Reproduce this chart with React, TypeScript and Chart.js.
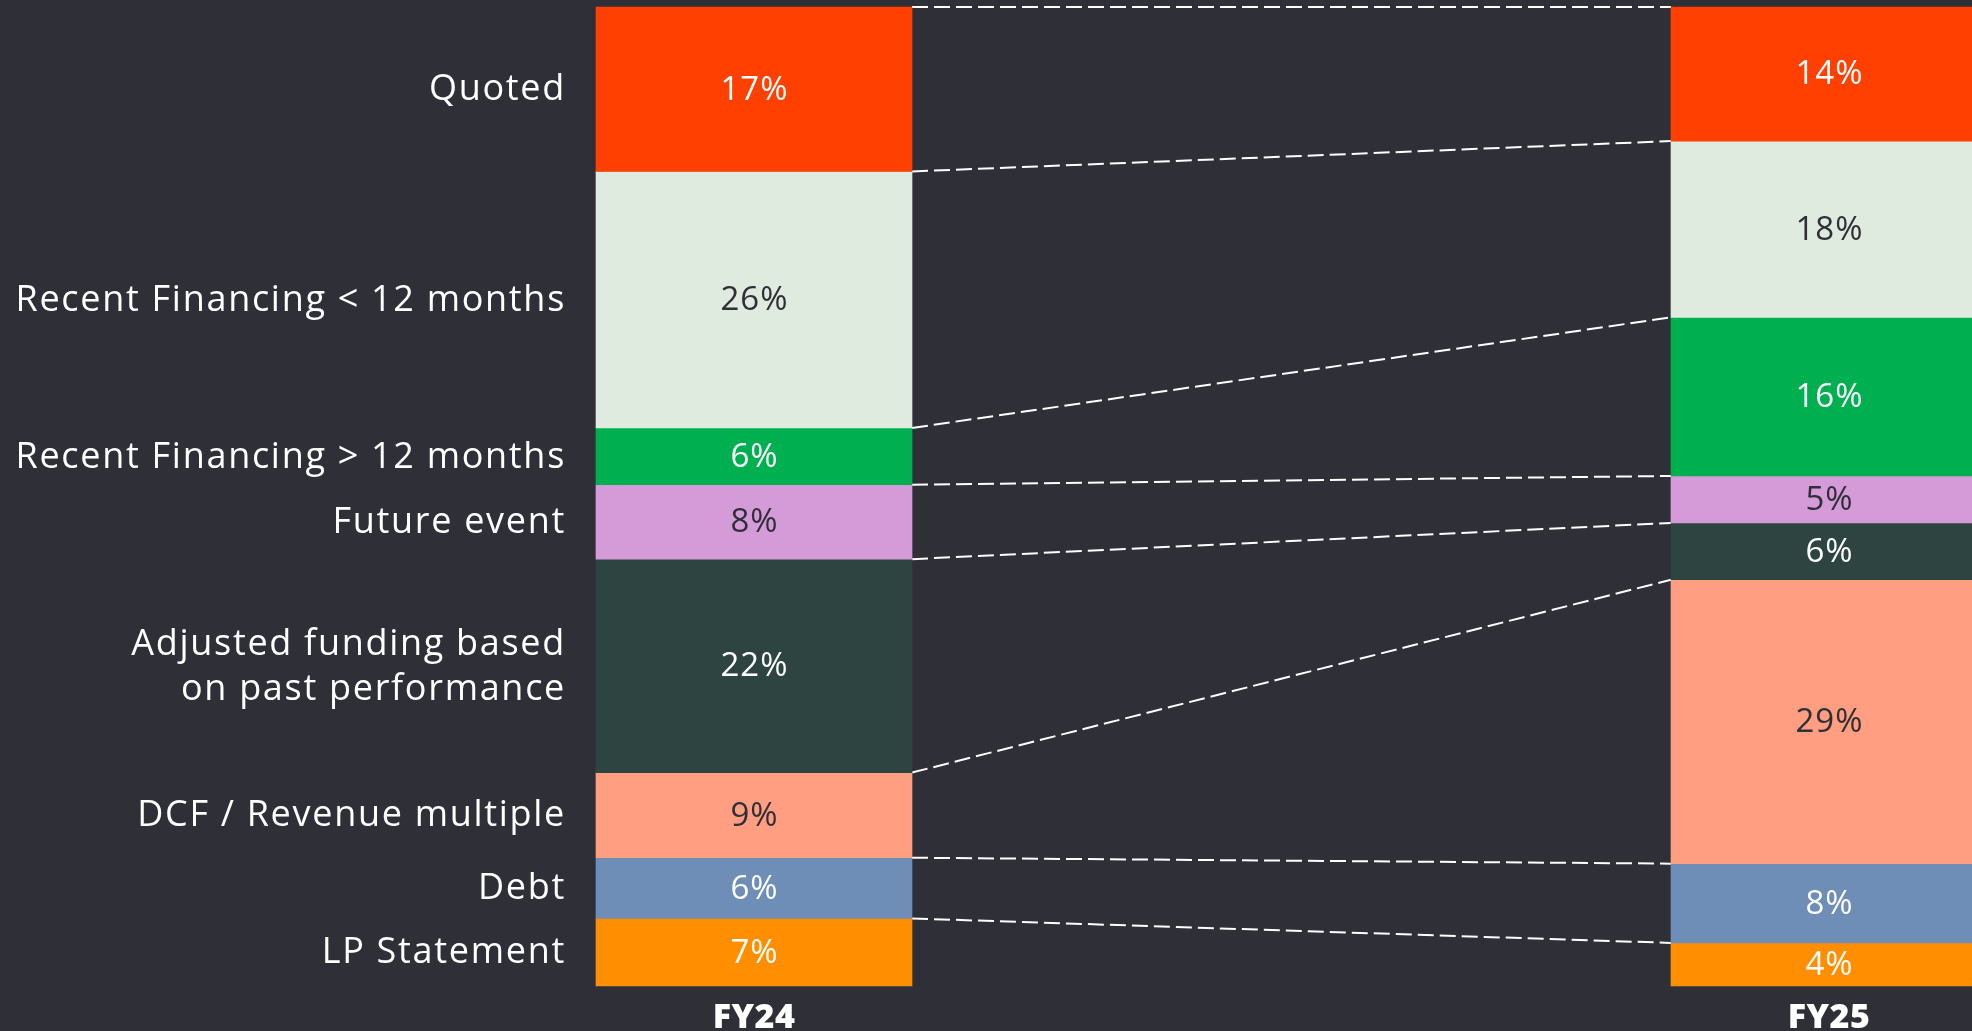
import React, { useEffect, useRef } from 'react';
import { Chart, registerables } from 'chart.js';

Chart.register(...registerables);

const periods = ['FY24', 'FY25'];
const categories: (string | string[])[] = [
  'Quoted',
  'Recent Financing < 12 months',
  'Recent Financing > 12 months',
  'Future event',
  ['Adjusted funding based', 'on past performance'],
  'DCF / Revenue multiple',
  'Debt',
  'LP Statement',
];
const fy24Values = [16.8, 26.2, 5.8, 7.6, 21.8, 8.7, 6.2, 6.9];
const fy25Values = [13.7, 18.0, 16.2, 4.8, 5.8, 29.0, 8.1, 4.4];
const fy24Labels = ['17%', '26%', '6%', '8%', '22%', '9%', '6%', '7%'];
const fy25Labels = ['14%', '18%', '16%', '5%', '6%', '29%', '8%', '4%'];
const fillColors = ['#FF4000', '#E0EBDF', '#00AF50', '#D49BD8', '#2D4440', '#FF9E80', '#6E8DB7', '#FF8F00'];
const textColors = ['#FFFFFF', '#2F2F38', '#FFFFFF', '#2F2F38', '#FFFFFF', '#2F2F38', '#FFFFFF', '#FFFFFF'];

const BG = '#2F2F38';
const FONT = '"Open Sans", "Noto Sans", sans-serif';

const overlayPlugin = {
  id: 'overlay',
  beforeDatasetsDraw(chart: any) {
    const ctx = chart.ctx;
    const n = chart.data.datasets.length;
    ctx.save();
    ctx.strokeStyle = '#FFFFFF';
    ctx.lineWidth = 2;
    ctx.setLineDash([16, 6]);
    for (let i = -1; i < n - 1; i++) {
      const di = i < 0 ? 0 : i;
      const a = chart.getDatasetMeta(di).data[0] as any;
      const b = chart.getDatasetMeta(di).data[1] as any;
      const ya = i < 0 ? a.base : a.y;
      const yb = i < 0 ? b.base : b.y;
      ctx.beginPath();
      ctx.moveTo(a.x + a.width / 2, ya);
      ctx.lineTo(b.x - b.width / 2, yb);
      ctx.stroke();
    }
    ctx.restore();
  },
  afterDatasetsDraw(chart: any) {
    const ctx = chart.ctx;
    ctx.save();
    ctx.textBaseline = 'middle';
    chart.data.datasets.forEach((ds: any, i: number) => {
      const meta = chart.getDatasetMeta(i);
      meta.data.forEach((el: any, j: number) => {
        const cy = (el.y + el.base) / 2;
        ctx.font = `400 33px ${FONT}`;
        (ctx as any).letterSpacing = '1px';
        ctx.textAlign = 'center';
        ctx.fillStyle = textColors[i];
        const lbl = j === 0 ? fy24Labels[i] : fy25Labels[i];
        ctx.fillText(lbl, el.x + 0.5, cy + 1);
        if (j === 0) {
          const cat = categories[i];
          const lines = Array.isArray(cat) ? cat : [cat];
          ctx.fillStyle = '#FFFFFF';
          ctx.textAlign = 'right';
          ctx.font = `400 36px ${FONT}`;
          (ctx as any).letterSpacing = '1.7px';
          const lh = 45;
          lines.forEach((ln, k) => {
            ctx.fillText(ln, 566, cy + (k - (lines.length - 1) / 2) * lh + 1);
          });
        }
      });
    });
    const m = chart.getDatasetMeta(0);
    (ctx as any).letterSpacing = '0.5px';
    ctx.font = `800 34px ${FONT}`;
    ctx.fillStyle = '#FFFFFF';
    ctx.textAlign = 'center';
    periods.forEach((p, j) => {
      const el = m.data[j] as any;
      ctx.fillText(p, el.x, 1018);
    });
    ctx.restore();
  },
};

export default function App() {
  const ref = useRef<HTMLCanvasElement>(null);
  useEffect(() => {
    if (!ref.current) return;
    const chart = new Chart(ref.current, {
      type: 'bar',
      data: {
        labels: periods,
        datasets: categories.map((c, i) => ({
          label: Array.isArray(c) ? c.join(' ') : c,
          data: [fy24Values[i], fy25Values[i]],
          backgroundColor: fillColors[i],
          borderWidth: 0,
          barThickness: 316,
          clip: false as any,
        })),
      },
      options: {
        animation: false,
        responsive: false,
        maintainAspectRatio: false,
        layout: { padding: { left: 754, right: 143, top: 7, bottom: 45 } },
        plugins: { legend: { display: false }, tooltip: { enabled: false } },
        scales: {
          x: { display: false, stacked: true, offset: false, grid: { display: false } },
          y: { display: false, stacked: true, reverse: true, min: 0, max: 100 },
        },
      },
      plugins: [overlayPlugin],
    });
    return () => chart.destroy();
  }, []);
  return (
    <div style={{ position: 'fixed', left: 0, top: 0, width: 1972, height: 1031, background: BG, overflow: 'hidden' }}>
      <canvas ref={ref} width={1972} height={1031} style={{ display: 'block', width: 1972, height: 1031 }} />
    </div>
  );
}
